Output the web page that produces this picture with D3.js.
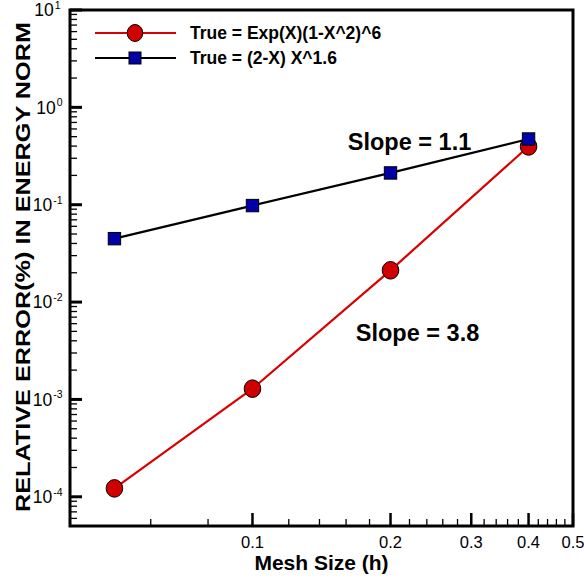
<!DOCTYPE html>
<html>
<head>
<meta charset="utf-8">
<script src="https://cdn.jsdelivr.net/npm/d3@7/dist/d3.min.js"></script>
<style>
  body { margin: 0; background: #fff; }
  svg { display: block; font-family: "Liberation Sans", Arial, Helvetica, sans-serif; }
</style>
</head>
<body>
<svg id="chart" width="584" height="579"></svg>
<script>
// mesh sizes and errors
const meshSizes = [0.05, 0.1, 0.2, 0.4];
const errExp = [1.22e-4, 1.29e-3, 0.0212, 0.397];
const errPow = [0.0448, 0.098, 0.212, 0.473];
const seriesNames = ['True = Exp(X)(1-X^2)^6', 'True = (2-X) X^1.6'];

const xMajor = [0.1, 0.2, 0.3, 0.4, 0.5];
const xMinor = [0.06, 0.08, 0.12, 0.14, 0.16, 0.18, 0.22, 0.24, 0.26, 0.28,
                0.32, 0.34, 0.36, 0.38, 0.42, 0.44, 0.46, 0.48];
const yExponents = [1, 0, -1, -2, -3, -4];

// text anchors given in data units (left end of baseline)
const slopeNotes = [
    { text: 'Slope = 1.1', x: 0.1614, y: 0.367 },
    { text: 'Slope = 3.8', x: 0.168, y: 0.00394 }
];

const svg = d3.select('#chart');
const M = { left: 70, top: 10, right: 573, bottom: 526 };

const x = d3.scaleLog().domain([0.04, 0.5]).range([M.left, M.right]);
const y = d3.scaleLog().domain([Math.pow(10, -4.3), 10]).range([M.bottom, M.top]);

// y ticks (inward)
const yMinor = [];
yExponents.concat([-5]).forEach(e => {
    for (let k = 2; k <= 9; k++) {
        const v = k * Math.pow(10, e);
        if (v >= y.domain()[0] && v < 10) yMinor.push(v);
    }
});

const gy = svg.append('g');
gy.selectAll('line.minor').data(yMinor).join('line')
    .attr('x1', M.left).attr('x2', M.left + 7)
    .attr('y1', d => y(d)).attr('y2', d => y(d))
    .attr('stroke', '#000').attr('stroke-width', 1.3);
gy.selectAll('line.major').data(yExponents).join('line')
    .attr('x1', M.left).attr('x2', M.left + 12)
    .attr('y1', d => y(Math.pow(10, d))).attr('y2', d => y(Math.pow(10, d)))
    .attr('stroke', '#000').attr('stroke-width', 3);

const yl = gy.selectAll('text').data(yExponents).join('text')
    .attr('x', d => d > 0 ? 60.5 : 62.5).attr('y', d => y(Math.pow(10, d)) + 6.3)
    .attr('text-anchor', 'end').attr('font-size', 17.5);
yl.append('tspan').text('10');
yl.append('tspan').attr('font-size', 10.5).attr('dy', -7.5).attr('dx', 1).text(d => d);

// x ticks (inward)
const gx = svg.append('g');
gx.selectAll('line.minor').data(xMinor).join('line')
    .attr('x1', d => x(d)).attr('x2', d => x(d))
    .attr('y1', M.bottom).attr('y2', M.bottom - 7)
    .attr('stroke', '#000').attr('stroke-width', 1.3);
gx.selectAll('line.major').data(xMajor).join('line')
    .attr('x1', d => x(d)).attr('x2', d => x(d))
    .attr('y1', M.bottom).attr('y2', M.bottom - 13)
    .attr('stroke', '#000').attr('stroke-width', 2.5);
gx.selectAll('text').data(xMajor).join('text')
    .attr('x', d => x(d)).attr('y', 548)
    .attr('text-anchor', 'middle').attr('font-size', 16.5)
    .text(d => d);

// frame
svg.append('rect')
    .attr('x', M.left).attr('y', M.top)
    .attr('width', M.right - M.left).attr('height', M.bottom - M.top)
    .attr('fill', 'none').attr('stroke', '#000').attr('stroke-width', 3);

// axis titles
svg.append('text')
    .attr('x', (M.left + M.right) / 2).attr('y', 570)
    .attr('text-anchor', 'middle').attr('font-size', 21).attr('font-weight', 'bold')
    .text('Mesh Size (h)');
svg.append('text')
    .attr('transform', `translate(30,${(M.top + M.bottom) / 2 - 1}) rotate(-90)`)
    .attr('text-anchor', 'middle').attr('font-size', 20).attr('font-weight', 'bold')
    .attr('textLength', 490).attr('lengthAdjust', 'spacingAndGlyphs')
    .text('RELATIVE ERROR(%) IN ENERGY NORM');

// series
const line = d3.line().x(d => x(d[0])).y(d => y(d[1]));
const expPts = d3.zip(meshSizes, errExp);
const powPts = d3.zip(meshSizes, errPow);

svg.append('path').datum(expPts).attr('d', line)
    .attr('fill', 'none').attr('stroke', '#d90000').attr('stroke-width', 2.2);
svg.append('path').datum(powPts).attr('d', line)
    .attr('fill', 'none').attr('stroke', '#000').attr('stroke-width', 2.2);

svg.append('g').selectAll('ellipse').data(expPts).join('ellipse')
    .attr('cx', d => x(d[0])).attr('cy', d => y(d[1]))
    .attr('rx', 8.3).attr('ry', 8.8)
    .attr('fill', '#d00000').attr('stroke', '#000').attr('stroke-width', 1);
svg.append('g').selectAll('rect').data(powPts).join('rect')
    .attr('x', d => x(d[0]) - 6.2).attr('y', d => y(d[1]) - 6.2)
    .attr('width', 12.4).attr('height', 12.4)
    .attr('fill', '#0000a8').attr('stroke', '#000').attr('stroke-width', 1);

// slope notes
svg.selectAll('text.slope').data(slopeNotes).join('text')
    .attr('class', 'slope')
    .attr('x', d => x(d.x)).attr('y', d => y(d.y))
    .attr('font-size', 23.5).attr('font-weight', 'bold')
    .text(d => d.text);

// legend
const lg = svg.append('g');
const legendRows = [
    { name: seriesNames[0], color: '#d90000', y: 33, mark: 'circle' },
    { name: seriesNames[1], color: '#000', y: 58, mark: 'square' }
];
legendRows.forEach(r => {
    lg.append('line').attr('x1', 95).attr('x2', 176).attr('y1', r.y).attr('y2', r.y)
        .attr('stroke', r.color).attr('stroke-width', 2.2);
    if (r.mark === 'circle') {
        lg.append('ellipse').attr('cx', 135).attr('cy', r.y).attr('rx', 7.8).attr('ry', 8.5)
            .attr('fill', '#d00000').attr('stroke', '#000').attr('stroke-width', 1);
    } else {
        lg.append('rect').attr('x', 129).attr('y', r.y - 6).attr('width', 12).attr('height', 12)
            .attr('fill', '#0000a8').attr('stroke', '#000').attr('stroke-width', 1);
    }
    lg.append('text').attr('x', 190).attr('y', r.y + 6)
        .attr('font-size', 17.5).attr('font-weight', 'bold')
        .text(r.name);
});
</script>
</body>
</html>
